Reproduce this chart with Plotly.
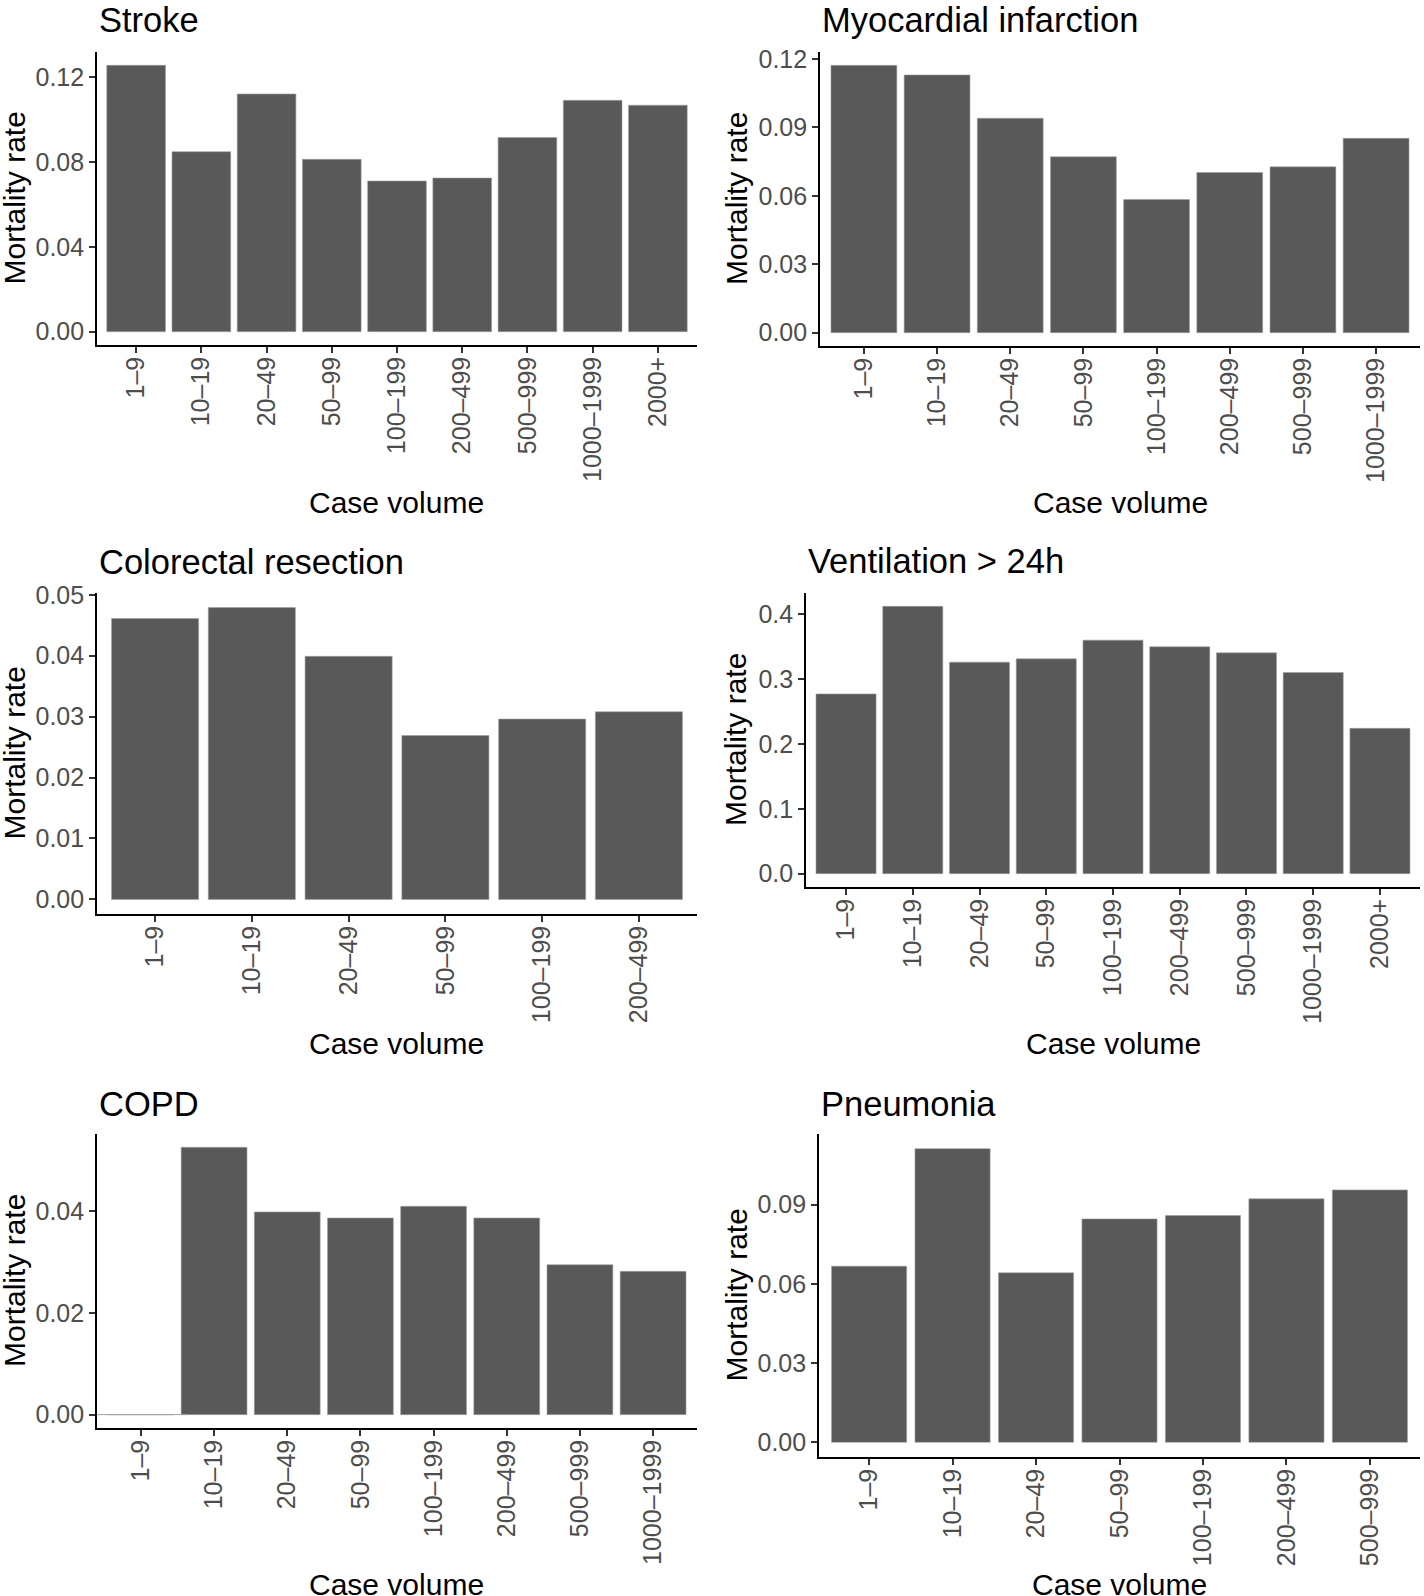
import plotly.graph_objects as go

W, H = 1424, 1596

stroke_cats = ["1–9", "10–19", "20–49", "50–99", "100–199", "200–499", "500–999", "1000–1999", "2000+"]
stroke_rate = [0.1255, 0.0848, 0.1120, 0.0812, 0.0710, 0.0724, 0.0915, 0.1090, 0.1067]

mi_cats = ["1–9", "10–19", "20–49", "50–99", "100–199", "200–499", "500–999", "1000–1999"]
mi_rate = [0.1172, 0.1130, 0.0940, 0.0771, 0.0584, 0.0702, 0.0727, 0.0852]

colorectal_cats = ["1–9", "10–19", "20–49", "50–99", "100–199", "200–499"]
colorectal_rate = [0.0461, 0.0479, 0.0399, 0.0269, 0.0296, 0.0308]

vent_cats = ["1–9", "10–19", "20–49", "50–99", "100–199", "200–499", "500–999", "1000–1999", "2000+"]
vent_rate = [0.2773, 0.4124, 0.3263, 0.3314, 0.3603, 0.3500, 0.3407, 0.3103, 0.2242]

copd_cats = ["1–9", "10–19", "20–49", "50–99", "100–199", "200–499", "500–999", "1000–1999"]
copd_rate = [0.0, 0.0526, 0.0399, 0.0387, 0.0410, 0.0387, 0.0295, 0.0282]

pneumonia_cats = ["1–9", "10–19", "20–49", "50–99", "100–199", "200–499", "500–999"]
pneumonia_rate = [0.0667, 0.1112, 0.0642, 0.0846, 0.0859, 0.0922, 0.0956]

titles = ["Stroke", "Myocardial infarction", "Colorectal resection", "Ventilation > 24h", "COPD", "Pneumonia"]
y_ticks = [
    [0, 0.04, 0.08, 0.12],
    [0, 0.03, 0.06, 0.09, 0.12],
    [0, 0.01, 0.02, 0.03, 0.04, 0.05],
    [0, 0.1, 0.2, 0.3, 0.4],
    [0, 0.02, 0.04],
    [0, 0.03, 0.06, 0.09],
]
tick_formats = [".2f", ".2f", ".2f", ".1f", ".2f", ".2f"]

panels = [
    (stroke_cats, stroke_rate),
    (mi_cats, mi_rate),
    (colorectal_cats, colorectal_rate),
    (vent_cats, vent_rate),
    (copd_cats, copd_rate),
    (pneumonia_cats, pneumonia_rate),
]

# panel boxes in pixels: left, right, top, bottom
boxes = [
    (97, 697, 52, 345),
    (820, 1420, 52, 346),
    (97, 697, 593, 914),
    (806, 1420, 593, 887),
    (97, 697, 1134, 1428),
    (819, 1420, 1134, 1457),
]
title_y = [20, 20, 562, 561, 1104, 1104]
xtitle_y = [502, 502, 1043, 1043, 1584, 1584]
ytitle_x = [14, 736, 14, 736, 14, 736]

FONT = "Liberation Sans, Arial, Helvetica, sans-serif"
BAR = "#595959"


def px(x):
    return x / W


def py(y):
    return 1 - y / H


fig = go.Figure()
annotations = []
layout = {}

for i, (cats, vals) in enumerate(panels):
    n = i + 1
    sfx = "" if n == 1 else str(n)
    xa, ya = "x" + sfx, "y" + sfx
    left, right, top, bottom = boxes[i]
    vmax = max(vals)

    fig.add_trace(
        go.Bar(
            x=cats,
            y=vals,
            xaxis=xa,
            yaxis=ya,
            marker={"color": BAR, "line": {"color": "#a0a0a0", "width": 0.6}},
            showlegend=False,
        )
    )
    # zero-height bars still show their outline in the original
    zero = [c for c, v in zip(cats, vals) if v == 0]
    if zero:
        bar_px = 0.9 * (right - left) / (len(cats) + 0.2)
        fig.add_trace(
            go.Scatter(
                x=zero,
                y=[0] * len(zero),
                xaxis=xa,
                yaxis=ya,
                mode="markers",
                marker={"symbol": "line-ew", "size": bar_px, "line": {"color": "#a0a0a0", "width": 1}},
                showlegend=False,
                hoverinfo="skip",
            )
        )

    layout["xaxis" + sfx] = dict(
        domain=[px(left), px(right)],
        anchor=ya,
        type="category",
        range=[-0.6, len(cats) - 1 + 0.6],
        showline=True,
        linecolor="black",
        linewidth=1.6,
        ticks="outside",
        ticklen=6,
        tickwidth=1.6,
        tickcolor="#333333",
        tickangle=-90,
        ticklabelstandoff=-6,
        tickfont={"size": 25, "color": "#4d4d4d", "family": FONT},
        showgrid=False,
        zeroline=False,
        automargin=False,
    )
    layout["yaxis" + sfx] = dict(
        domain=[py(bottom), py(top)],
        anchor=xa,
        range=[-0.05 * vmax, 1.05 * vmax],
        tickvals=y_ticks[i],
        tickformat=tick_formats[i],
        showline=True,
        linecolor="black",
        linewidth=1.6,
        ticks="outside",
        ticklen=6,
        tickwidth=1.6,
        tickcolor="#333333",
        tickfont={"size": 25, "color": "#4d4d4d", "family": FONT},
        showgrid=False,
        zeroline=False,
        automargin=False,
    )

    annotations.append(dict(
        text=titles[i], x=px(left), y=py(title_y[i]), xref="paper", yref="paper",
        xanchor="left", yanchor="middle", showarrow=False,
        font={"size": 34.5, "color": "black", "family": FONT},
    ))
    annotations.append(dict(
        text="Case volume", x=px((left + right) / 2), y=py(xtitle_y[i]), xref="paper", yref="paper",
        xanchor="center", yanchor="middle", showarrow=False,
        font={"size": 30, "color": "black", "family": FONT},
    ))
    annotations.append(dict(
        text="Mortality rate", x=px(ytitle_x[i]), y=py((top + bottom) / 2), xref="paper", yref="paper",
        xanchor="center", yanchor="middle", showarrow=False, textangle=-90,
        font={"size": 30, "color": "black", "family": FONT},
    ))

fig.update_layout(
    width=W,
    height=H,
    margin={"l": 0, "r": 0, "t": 0, "b": 0, "pad": 0, "autoexpand": False},
    paper_bgcolor="white",
    plot_bgcolor="white",
    bargap=0.1,
    annotations=annotations,
    font={"family": FONT},
    **layout,
)

# pin the plot to the page corner so nothing shifts or rescales it
pin = (
    "var gd=document.getElementById('{plot_id}');"
    "gd.style.position='absolute';gd.style.top='0';gd.style.left='0';"
    "document.body.style.margin='0';document.documentElement.style.overflow='hidden';"
)
fig.write_html("out.html", config={"displayModeBar": False}, post_script=pin)
